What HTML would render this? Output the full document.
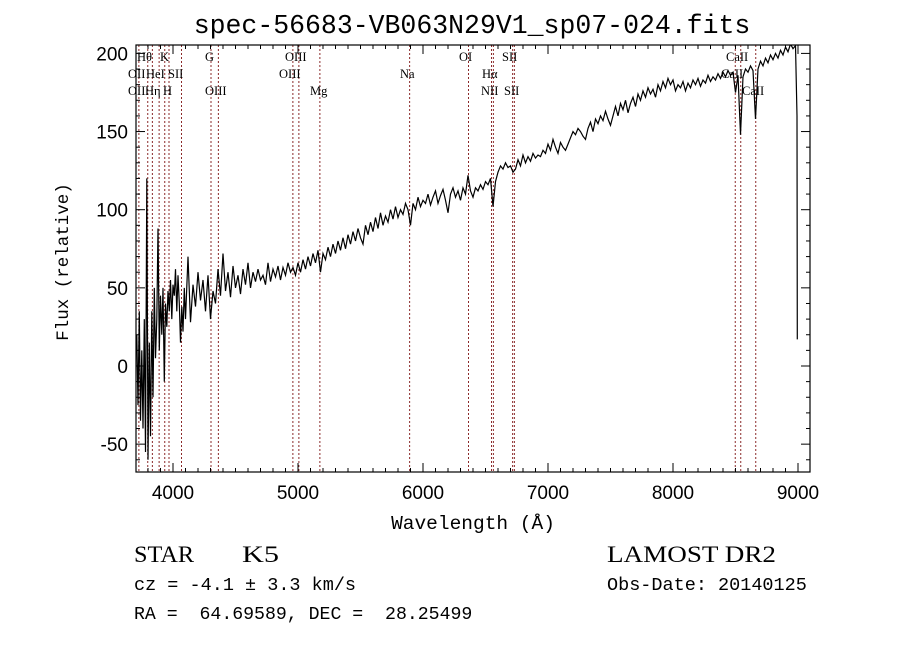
<!DOCTYPE html>
<html><head><meta charset="utf-8"><style>
body{margin:0;background:#fff}
svg{display:block}
text{fill:#000}
.sans{font-family:"Liberation Sans",sans-serif}
.mono{font-family:"Liberation Mono",monospace;white-space:pre}
.serif{font-family:"Liberation Serif",serif;white-space:pre}
.lbl{font-family:"Liberation Serif",serif;font-size:12.5px}
</style></head><body>
<svg id="chart" width="900" height="649" viewBox="0 0 900 649" xmlns="http://www.w3.org/2000/svg">
<text class="mono" x="472" y="33" font-size="26.5" text-anchor="middle">spec-56683-VB063N29V1_sp07-024.fits</text>
<text class="mono" transform="translate(68,262) rotate(-90)" font-size="17.5" text-anchor="middle">Flux (relative)</text>
<text class="mono" x="473" y="529" font-size="19.5" text-anchor="middle">Wavelength (Å)</text>
<text class="serif" x="134" y="562" font-size="23" textLength="60" lengthAdjust="spacingAndGlyphs">STAR</text>
<text class="serif" x="242" y="562" font-size="23" textLength="37" lengthAdjust="spacingAndGlyphs">K5</text>
<text class="serif" x="607" y="562" font-size="23" textLength="169" lengthAdjust="spacingAndGlyphs">LAMOST DR2</text>
<text class="mono" x="134" y="590" font-size="18.5">cz = -4.1 ± 3.3 km/s</text>
<text class="mono" x="607" y="590" font-size="18.5">Obs-Date: 20140125</text>
<text class="mono" x="134" y="619" font-size="18.2">RA =  64.69589, DEC =  28.25499</text>
<g id="plot"></g>
</svg>
<script>
const waves=[3710,3720,3730,3740,3750,3760,3770,3780,3790,3800,3810,3820,3830,3840,3850,3860,3870,3880,3890,3900,3910,3920,3930,3940,3950,3960,3970,3980,3990,4000,4010,4020,4030,4040,4050,4060,4070,4080,4090,4100,
4120,4140,4160,4180,4200,4220,4240,4260,4280,4300,4320,4340,4360,4380,4400,4420,4440,4460,4480,4500,4520,4540,4560,4580,4600,4620,4640,4660,4680,4700,4720,4740,4760,4780,4800,4820,4840,4860,4880,4900,4920,4940,4960,4980,5000,
5020,5040,5060,5080,5100,5120,5140,5160,5180,5200,5220,5240,5260,5280,5300,5320,5340,5360,5380,5400,5420,5440,5460,5480,5500,5520,5540,5560,5580,5600,5620,5640,5660,5680,5700,5720,5740,5760,5780,5800,5820,5840,5860,5880,5900,5920,5940,5960,5980,6000,
6020,6040,6060,6080,6100,6120,6140,6160,6180,6200,6220,6240,6260,6280,6300,6320,6340,6360,6380,6400,6420,6440,6460,6480,6500,6520,6540,6560,6580,6600,
6620,6640,6660,6680,6700,6720,6740,6760,6780,6800,6820,6840,6860,6880,6900,6920,6940,6960,6980,7000,
7020,7040,7060,7080,7100,7120,7140,7160,7180,7200,7220,7240,7260,7280,7300,7320,7340,7360,7380,7400,7420,7440,7460,7480,7500,7520,7540,7560,7580,7600,7620,7640,7660,7680,7700,7720,7740,7760,7780,7800,7820,7840,7860,7880,7900,7920,7940,7960,7980,8000,
8020,8040,8060,8080,8100,8120,8140,8160,8180,8200,8220,8240,8260,8280,8300,8320,8340,8360,8380,8400,8420,8440,8460,8480,8500,8520,8540,8560,8580,8600,8620,8640,8660,8680,8700,8720,8740,8760,8780,8800,8820,8840,8860,8880,8900,8920,8940,8960,8980,8992,8994];
const flux=[20,-25,35,-35,10,-40,30,-55,120,-60,15,-45,35,-20,50,5,30,88,10,45,20,50,-10,40,25,48,35,55,30,52,45,62,35,58,40,15,38,22,50,30,
70,28,52,38,60,42,55,35,58,30,48,40,62,45,72,48,60,44,64,50,58,46,62,52,66,50,60,54,62,55,58,52,66,54,62,57,64,55,63,58,66,60,63,58,66,
60,68,62,70,64,72,66,74,60,72,68,76,70,78,72,80,74,82,75,84,78,86,80,88,82,78,90,84,92,86,95,88,98,90,96,92,100,94,102,95,100,97,104,100,90,104,100,108,102,106,
104,110,103,108,112,104,109,113,106,98,110,114,108,112,106,114,110,122,112,108,114,112,116,113,118,116,120,102,118,124,
128,126,130,127,128,124,126,132,128,135,130,134,131,136,133,135,134,138,136,142,
138,145,140,136,143,140,138,142,146,150,148,152,150,147,145,152,156,150,158,155,160,157,163,158,154,160,166,160,168,164,170,162,168,172,166,174,170,176,172,178,174,177,172,180,176,182,178,184,180,183,
176,180,178,182,176,181,178,183,180,184,179,183,181,186,182,185,183,187,184,188,185,189,186,188,175,186,148,185,190,188,192,189,158,190,195,192,197,194,199,196,200,197,202,199,204,201,206,203,205,160,17];
const lineWaves=[3727,3798,3835,3889,3934,3968,4068,4304,4363,4959,5007,5175,5893,6364,6548,6563,6717,6731,8498,8542,8662];
const lineLabels=[["Hθ",137,61],["K",160,61],["G",205,61],["OIII",285,61],["OI",459,61],["SII",502,61],["CaII",726,61],
["OII",128,78],["HeI",146,78],["SII",168,78],["OIII",279,78],["Na",400,78],["Hα",482,78],["CaII",721,78],
["OII",128,95],["Hη",145,95],["H",163,95],["OIII",205,95],["Mg",310,95],["NII",481,95],["SII",504,95],["CaII",742,95]];
const xTicks=[4000,5000,6000,7000,8000,9000];
const yTicks=[-50,0,50,100,150,200];
const X0=136,X1=810,Y0=45,Y1=472;
const xs=w=>173+(w-4000)*0.125;
const ys=f=>366-f*1.563;
const NS="http://www.w3.org/2000/svg";
const g=document.getElementById('plot');
function mk(t,a){const e=document.createElementNS(NS,t);for(const k in a)e.setAttribute(k,a[k]);g.appendChild(e);return e;}
const cp=mk('clipPath',{id:'cp'});
const r=document.createElementNS(NS,'rect');r.setAttribute('x',X0);r.setAttribute('y',Y0);r.setAttribute('width',X1-X0);r.setAttribute('height',Y1-Y0);cp.appendChild(r);
lineWaves.forEach(w=>{const l=mk('line',{x1:xs(w),x2:xs(w),y1:Y0,y2:Y1,stroke:'#8b2a2a','stroke-width':1,'stroke-dasharray':'2,2'});

});
let d='';waves.forEach((w,i)=>{d+=(i?'L':'M')+xs(w).toFixed(1)+','+ys(flux[i]).toFixed(1);});
const p=mk('path',{d:d,fill:'none',stroke:'#000','stroke-width':1.2,'clip-path':'url(#cp)'});


lineLabels.forEach(([t,x,y])=>{const e=mk('text',{x:x,y:y,class:'lbl'});e.textContent=t;

});
const fr=mk('rect',{x:X0,y:Y0,width:X1-X0,height:Y1-Y0,fill:'none',stroke:'#000','stroke-width':1.2});


for(let w=3800;w<=9000;w+=100){const x=xs(w);if(x<X0||x>X1)continue;const L=(w%1000===0)?9:4;
mk('line',{x1:x,x2:x,y1:Y1,y2:Y1-L,stroke:'#000'});mk('line',{x1:x,x2:x,y1:Y0,y2:Y0+L,stroke:'#000'});}
for(let f=-60;f<=200;f+=10){const y=ys(f);if(y<Y0||y>Y1)continue;const L=(f%50===0)?9:4;
mk('line',{x1:X0,x2:X0+L,y1:y,y2:y,stroke:'#000'});mk('line',{x1:X1,x2:X1-L,y1:y,y2:y,stroke:'#000'});}
xTicks.forEach(v=>{const e=mk('text',{x:xs(v),y:Y1+27,'font-size':19,'text-anchor':'middle',class:'sans'});e.textContent=v;

});
yTicks.forEach(v=>{const e=mk('text',{x:X0-8,y:ys(v)+7,'font-size':19,'text-anchor':'end',class:'sans'});e.textContent=v;

});
</script>
</body></html>
